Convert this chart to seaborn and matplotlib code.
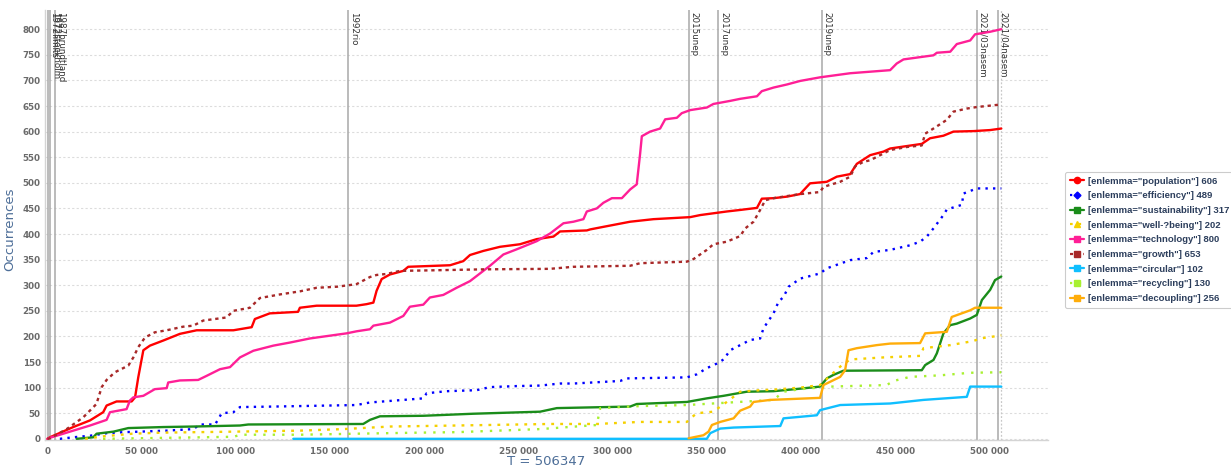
import matplotlib.pyplot as plt
import matplotlib.ticker as mticker
from matplotlib.lines import Line2D
from matplotlib.transforms import offset_copy
import pandas as pd
import seaborn as sns

# cumulative occurrences per lemma; positions in thousands of tokens
POPULATION_T = [0, 1.3, 13.7, 22.6, 29.6, 31.4, 36.7, 44.7, 46.5, 48.2, 50.9, 54.4, 61.5, 70.3, 79.2, 98.7,
                108.4, 110.1, 118, 133, 134, 142.9, 164, 169.4, 173, 174.7, 177.4, 181.8, 188.9, 191.5, 213.7,
                220.7, 224.3, 231.4, 240.2, 250.8, 259.7, 268.6, 272.1, 286.3, 288.1, 295.1, 302.2, 309.3,
                321.7, 341.2, 346.5, 360.6, 367.7, 376.6, 379.2, 385.4, 392.5, 399.5, 404.8, 413.7, 419,
                426.1, 429.6, 436.7, 443.8, 447.3, 464.1, 468.5, 475.6, 480.9, 491.5, 500.4, 506.3]
POPULATION_N = [0, 3, 23, 36, 52, 65, 73, 73, 81, 120, 173, 182, 192, 205, 212, 212,
                218, 234, 245, 248, 256, 260, 260, 263, 266, 289, 312, 321, 328, 336, 339,
                347, 359, 367, 375, 380, 390, 395, 405, 407, 409, 414, 419, 424,
                429, 433, 437, 444, 447, 451, 469, 470, 473, 478, 499, 502, 512,
                517, 537, 554, 561, 567, 576, 587, 592, 600, 601, 603, 606]

EFFICIENCY_T = [6.6, 13.7, 22.6, 31.4, 40.3, 49.1, 63.3, 77.4, 81, 89, 92.5, 98.7, 102.2, 119.9, 164,
                171.2, 188.9, 199.5, 201.3, 211.9, 227.8, 234.9, 249, 261.5, 272.1, 279.2, 304, 307.5,
                339.4, 344.7, 350, 355.3, 358.9, 362.4, 367.7, 373, 378.3, 380.1, 385.4, 388.1, 390.7,
                393.4, 399.6, 410.1, 413.7, 426.1, 434.9, 438.5, 447.3, 457.9, 463.2, 466.8, 470.3,
                475.6, 477.4, 485.4, 486.2, 493.3, 506.3]
EFFICIENCY_N = [0, 3, 6, 11, 13, 14, 16, 19, 28, 28, 50, 52, 62, 63, 66,
                71, 76, 79, 89, 93, 95, 101, 103, 104, 108, 108, 113, 118,
                120, 126, 138, 147, 155, 173, 183, 193, 196, 216, 245, 268, 277,
                297, 313, 323, 333, 349, 353, 365, 369, 378, 385, 395, 411,
                437, 448, 457, 479, 489, 489]

SUSTAINABILITY_T = [15.5, 24.3, 26.1, 35, 42.9, 61.5, 77.4, 102.2, 106.6, 167.6, 171.2, 176.5, 199.5, 226,
                    252.6, 261.5, 270.4, 309.3, 312.8, 339.4, 350, 358.9, 371.2, 385.4, 399.6, 410.1,
                    413.7, 417.3, 422.5, 464.1, 465.9, 470.3, 472.1, 475.6, 479.2, 482.7, 489.8, 493.3,
                    496, 500.4, 503, 506.3]
SUSTAINABILITY_N = [0, 3, 10, 14, 21, 23, 24, 26, 28, 29, 37, 44, 45, 49,
                    52, 53, 60, 63, 68, 72, 79, 84, 92, 93, 98, 102,
                    118, 125, 133, 134, 144, 154, 167, 206, 222, 225, 235, 242,
                    271, 291, 310, 317]

WELLBEING_T = [20, 30, 45, 60, 98.7, 134, 157, 181.8, 217.2, 266.8, 293.4, 297, 314.6, 339.4, 342, 344.7,
               353.5, 357.1, 360.6, 367.7, 378.3, 385.4, 399.6, 410.1, 420.8, 426.1, 443.8, 463.2, 465,
               479.2, 491.5, 495.1, 506.3]
WELLBEING_N = [0, 5, 10, 12, 14, 16, 19, 24, 26, 29, 29, 30, 33, 33, 42, 50,
               53, 63, 72, 92, 95, 96, 100, 105, 141, 155, 159, 162, 177,
               183, 191, 196, 202]

TECHNOLOGY_T = [0, 1.3, 13.7, 22.6, 31.4, 33.2, 42, 43.8, 45.6, 50.9, 57, 63.3, 64.1, 70.3, 80, 84.5, 91.6,
                96.9, 102.2, 109.3, 119.9, 128.7, 139.3, 158.8, 164.1, 171.2, 173, 181.8, 188.9, 192.4,
                199.5, 203, 210.1, 217.2, 224.3, 229.6, 234.9, 242, 249, 259.7, 266.8, 273.9, 279.2,
                284.5, 286.3, 291.6, 295.1, 299.6, 304.9, 309.3, 312.8, 314.6, 315.5, 319.9, 325.2,
                327.9, 334.1, 336.7, 341.2, 350, 353.5, 362.4, 367.7, 376.6, 379.2, 385.4, 392.5, 399.6,
                410.1, 426.1, 436.7, 447.3, 450.8, 454.4, 470.3, 472.1, 479.2, 482.7, 489.8, 492.4,
                500.4, 506.3]
TECHNOLOGY_N = [0, 2, 16, 26, 37, 52, 58, 75, 81, 84, 97, 99, 110, 114, 115, 123, 136,
                140, 159, 172, 182, 188, 196, 206, 210, 214, 221, 227, 240, 258,
                262, 276, 281, 295, 308, 323, 338, 360, 370, 386, 401, 421, 424,
                429, 444, 450, 461, 470, 470, 487, 497, 557, 591, 600, 606,
                624, 627, 636, 642, 647, 654, 660, 664, 669, 679, 686, 692, 699,
                706, 714, 717, 720, 733, 741, 749, 754, 756, 771, 778, 790,
                795, 800]

GROWTH_T = [0, 1.3, 10.2, 19, 26, 28.8, 31.4, 35.8, 42.9, 45.6, 48.2, 51.8, 57, 63.3, 72, 77.4, 82.7, 95,
            98.7, 107.5, 112.8, 123.4, 134, 142.9, 153.5, 164, 171.2, 174.7, 180, 187.1, 203, 217.2,
            231.4, 266.8, 279.2, 309.3, 314.6, 339.4, 342.9, 350, 353.5, 360.6, 367.7, 370.4, 374.8,
            378.3, 381, 385.4, 399.6, 410.1, 411.9, 420.8, 426.1, 428.7, 433.1, 436.7, 447.3, 456.2,
            464.1, 465.9, 470.3, 477.4, 480.9, 488, 493.3, 506.3]
GROWTH_N = [0, 1, 19, 42, 68, 101, 115, 130, 143, 159, 179, 198, 208, 212, 219, 221, 231, 237,
            250, 256, 275, 282, 288, 295, 297, 302, 316, 320, 322, 328, 329, 330,
            331, 332, 336, 338, 343, 346, 351, 369, 380, 385, 396, 411, 424,
            447, 466, 470, 478, 482, 492, 502, 512, 532, 541, 544, 564, 570,
            573, 596, 606, 623, 639, 645, 648, 653]

CIRCULAR_T = [130.5, 350, 351.8, 357.1, 364.2, 389, 390.7, 399.6, 408.4, 410.1, 420.8, 447.3, 465, 488,
              489.8, 506.3]
CIRCULAR_N = [0, 0, 11, 20, 22, 25, 40, 43, 46, 56, 66, 69, 76, 82, 102, 102]

RECYCLING_T = [29.5, 99, 102.2, 134, 164, 196, 217.2, 261.5, 291.6, 293.4, 314.6, 339.4, 385.4, 390.7,
               399.6, 415.5, 445.5, 449.1, 457.9, 473.9, 489.8, 506.3]
RECYCLING_N = [0, 4, 8, 8, 10, 12, 13, 19, 27, 60, 64, 66, 76, 92, 97, 102, 105, 113, 121, 124, 129, 130]

DECOUPLING_T = [340.3, 348.2, 350.9, 352.7, 357.1, 364.2, 367.7, 373, 374.8, 383.6, 410.1, 411.9, 420.8,
                423.4, 425.2, 429.6, 440.2, 447.3, 463.2, 465.9, 477.4, 480, 489.8, 492.4, 506.3]
DECOUPLING_N = [1, 7, 14, 27, 33, 40, 55, 63, 72, 76, 80, 105, 121, 134, 173, 177, 183, 186, 187,
                206, 209, 238, 251, 256, 256]

LEMMAS = ["population", "efficiency", "sustainability", "well-?being", "technology",
          "growth", "circular", "recycling", "decoupling"]
TOTALS = [606, 489, 317, 202, 800, 653, 102, 130, 256]

EVENT_LABELS = ["1972limits", "1972stockholm", "1987brundtland", "1992rio", "2015unep",
                "2017unep", "2019unep", "2021/03nasem", "2021/04nasem"]
EVENT_T = [100, 1300, 4100, 159400, 340300, 356100, 410900, 493200, 504300]
CORPUS_SIZE = 506347

SERIES_T = [POPULATION_T, EFFICIENCY_T, SUSTAINABILITY_T, WELLBEING_T, TECHNOLOGY_T,
            GROWTH_T, CIRCULAR_T, RECYCLING_T, DECOUPLING_T]
SERIES_N = [POPULATION_N, EFFICIENCY_N, SUSTAINABILITY_N, WELLBEING_N, TECHNOLOGY_N,
            GROWTH_N, CIRCULAR_N, RECYCLING_N, DECOUPLING_N]

COLORS = ["#ff0000", "#0000ff", "#1a8c1a", "#f5d000", "#ff1f96",
          "#a82828", "#10bfff", "#a8f030", "#ffad0a"]
DASHES = ["", (1.0, 2.2), "", (1.2, 2.6), "", (1.4, 1.6), "", (1.0, 3.0), ""]
MARKERS = ["o", "D", "s", "^", "s", "s", "s", "s", "s"]

sns.set_theme(style="white")
plt.rcParams["font.family"] = ["DejaVu Sans"]

rows = []
for lemma, ts, ns in zip(LEMMAS, SERIES_T, SERIES_N):
    for t, n in zip(ts, ns):
        rows.append({"lemma": lemma, "T": t * 1000, "n": n})
df = pd.DataFrame(rows)

fig = plt.figure(figsize=(12.31, 4.72), dpi=100)
ax = fig.add_axes([45 / 1231, 32 / 472, 1003 / 1231, 430 / 472])

ax.set_xlim(-1300, 531100)
ax.set_ylim(-2.3, 837.5)
ax.yaxis.set_major_locator(mticker.MultipleLocator(50))
ax.xaxis.set_major_locator(mticker.MultipleLocator(50000))
ax.xaxis.set_major_formatter(mticker.FuncFormatter(lambda v, p: f"{int(v):,}".replace(",", " ")))
ax.grid(axis="y", color="#dcdcdc", linestyle=(0, (2, 2)), linewidth=0.8)
ax.set_axisbelow(True)

# event markers
for lab, t in zip(EVENT_LABELS, EVENT_T):
    ax.axvline(t, color="#a8a8a8", lw=1.1, zorder=1)
    ax.text(t, 0.995, lab, rotation=270, ha="left", va="top", fontsize=6.3, color="#333333",
            transform=offset_copy(ax.get_xaxis_transform(), fig=fig, x=1.2, y=0, units="dots"))
ax.axvline(CORPUS_SIZE, color="#c8c8c8", lw=0.9, linestyle=(0, (1.5, 1.5)), zorder=1)

sns.lineplot(data=df, x="T", y="n", hue="lemma", style="lemma", hue_order=LEMMAS, style_order=LEMMAS,
             palette=dict(zip(LEMMAS, COLORS)), dashes=dict(zip(LEMMAS, DASHES)),
             estimator=None, sort=False, lw=1.7, legend=False, ax=ax, zorder=3)

for side in ["top", "right"]:
    ax.spines[side].set_visible(False)
for side in ["left", "bottom"]:
    ax.spines[side].set_color("#d4d4d4")
    ax.spines[side].set_linewidth(1.0)

ax.tick_params(axis="both", labelsize=6.3, labelcolor="#6a6a6a", length=3, color="#d4d4d4", pad=2)
for lab in ax.get_xticklabels() + ax.get_yticklabels():
    lab.set_fontweight("bold")
ax.tick_params(axis="y", length=0, pad=3)

ax.set_xlabel(f"T = {CORPUS_SIZE}", fontsize=9.5, color="#4d6e98")
ax.set_ylabel("Occurrences", fontsize=9.5, color="#4d6e98")
ax.xaxis.set_label_coords(0.5, -0.036)
ax.yaxis.set_label_coords(-0.029, 0.49)

handles = []
for lemma, total, c, d, m in zip(LEMMAS, TOTALS, COLORS, DASHES, MARKERS):
    h = Line2D([0], [0], color=c, lw=1.6, marker=m, markersize=4.5 if m != "D" else 3.5,
               linestyle="-" if d == "" else (0, d),
               label=f'[enlemma="{lemma}"] {total}')
    handles.append(h)
leg = fig.legend(handles=handles, loc="upper left", bbox_to_anchor=(1065 / 1231, 1 - 172 / 472),
                 bbox_transform=fig.transFigure, frameon=True, handlelength=1.5,
                 prop={"family": "Liberation Sans", "weight": "bold", "size": 6.8},
                 handletextpad=0.4, labelspacing=0.6, borderpad=0.5, borderaxespad=0, fancybox=True)
leg.get_frame().set_edgecolor("#c0c0c0")
leg.get_frame().set_linewidth(0.8)
for t in leg.get_texts():
    t.set_color("#2c3e5c")

fig.savefig("out.png", dpi=100)
